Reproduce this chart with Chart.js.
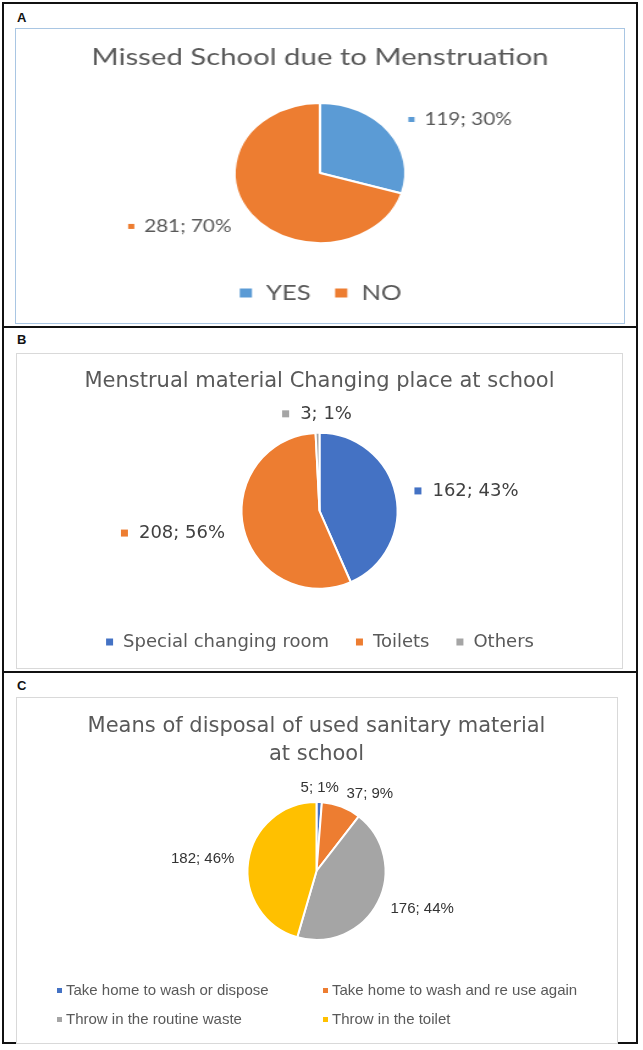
<!DOCTYPE html>
<html>
<head>
<meta charset="utf-8">
<script src="https://cdn.jsdelivr.net/npm/chart.js@4.4.1/dist/chart.umd.min.js"></script>
<style>
  body { margin: 0; background: #fff; }
  #page { position: relative; width: 643px; height: 1050px; overflow: hidden; }
  .abs { position: absolute; }
  .frame { left: 2px; top: 2px; width: 636px; height: 1042px; box-sizing: border-box; border: 2px solid #111; }
  .sep { left: 2px; width: 636px; height: 2px; background: #111; }
  .tag { font: bold 13px "Liberation Sans", sans-serif; color: #111; }
  .box { box-sizing: border-box; background: #fff; }
  canvas { position: absolute; }
  #legendC { font: 15px "Liberation Sans", sans-serif; color: #595959; }
  #legendC .item { position: absolute; white-space: nowrap; line-height: 18px; }
  #legendC .mk { display: inline-block; width: 5px; height: 5px; margin-right: 4px; vertical-align: middle; position: relative; top: -1px; }
</style>
</head>
<body>
<div id="page">
  <div class="abs frame"></div>
  <div class="abs sep" style="top:326px"></div>
  <div class="abs sep" style="top:671px"></div>

  <div class="abs tag" style="left:17px;top:10px">A</div>
  <div class="abs tag" style="left:17px;top:332px">B</div>
  <div class="abs tag" style="left:17px;top:678px">C</div>

  <div class="abs box" style="left:15px;top:28px;width:610px;height:296px;border:1px solid #a9c6e3"></div>
  <div class="abs box" style="left:16px;top:353px;width:607px;height:316px;border:1px solid #d9d9d9"></div>
  <div class="abs box" style="left:16px;top:697px;width:602px;height:347px;border:1px solid #d9d9d9"></div>

  <canvas id="chartA" width="498" height="295" style="left:16px;top:28px;transform:scaleX(1.2209);transform-origin:0 0"></canvas>
  <canvas id="chartB" width="607" height="315" style="left:16px;top:353px"></canvas>
  <canvas id="chartC" width="601" height="345" style="left:16px;top:697px"></canvas>
  <div id="legendC"></div>
</div>

<script>
// ----------------------------
// Data
// ----------------------------
const titleA = "Missed School due to Menstruation";
const labelsA = ["YES", "NO"];
const valuesA = [119, 281];
const colorsA = ["#5b9bd5", "#ed7d31"];

const titleB = "Menstrual material Changing place at school";
const labelsB = ["Special changing room", "Toilets", "Others"];
const valuesB = [162, 208, 3];
const colorsB = ["#4472c4", "#ed7d31", "#a5a5a5"];

const titleC = ["Means of disposal of used sanitary material", "at school"];
const labelsC = [
  "Take home to wash or dispose",
  "Take home to wash and re use again",
  "Throw in the routine waste",
  "Throw in the toilet"
];
const valuesC = [5, 37, 176, 182];
const colorsC = ["#4472c4", "#ed7d31", "#a5a5a5", "#ffc000"];

// ----------------------------
// "value; pct%" labels outside each slice
// ----------------------------
const sliceLabels = {
  id: "sliceLabels",
  afterDatasetsDraw(chart, args, opts) {
    const ctx = chart.ctx;
    const ds = chart.data.datasets[0];
    const total = ds.data.reduce((a, b) => a + b, 0);
    const meta = chart.getDatasetMeta(0);
    ctx.save();
    ctx.font = opts.font;
    ctx.textBaseline = "middle";
    ctx.textAlign = "left";
    meta.data.forEach((arc, i) => {
      const p = arc.getProps(["x", "y", "startAngle", "endAngle", "outerRadius"], true);
      const mid = (p.startAngle + p.endAngle) / 2;
      const dx = Math.cos(mid), dy = Math.sin(mid);
      const ax = p.x + dx * (p.outerRadius + opts.offset);
      const ay = p.y + dy * (p.outerRadius + opts.offset);
      const text = ds.data[i] + "; " + Math.round(ds.data[i] / total * 100) + "%";
      const mw = opts.marker ? opts.marker + opts.gap : 0;
      const w = mw + ctx.measureText(text).width;
      const left = dx > 0.3 ? ax : dx < -0.3 ? ax - w : ax - w / 2;
      if (opts.marker) {
        ctx.fillStyle = ds.backgroundColor[i];
        ctx.fillRect(left, ay - opts.marker / 2, opts.marker, opts.marker);
      }
      ctx.fillStyle = opts.color;
      ctx.fillText(text, left + mw, ay);
    });
    ctx.restore();
  }
};

function pieConfig(labels, values, colors, radius, extra) {
  return {
    type: "pie",
    data: {
      labels: labels,
      datasets: [{ data: values, backgroundColor: colors, borderColor: "#fff", borderWidth: 2 }]
    },
    options: Object.assign({
      responsive: false,
      animation: false,
      devicePixelRatio: 1,
      radius: radius,
      events: []
    }, extra),
    plugins: [sliceLabels]
  };
}

// ----------------------------
// A
// ----------------------------
new Chart(document.getElementById("chartA"), pieConfig(labelsA, valuesA, colorsA, 70, {
  layout: { padding: { top: 0, bottom: 9.5, left: 0, right: 0 } },
  plugins: {
    title: { display: true, text: titleA, color: "#595959",
      font: { family: "Lato", size: 24, weight: "normal", lineHeight: 1.2 },
      padding: { top: 14.6, bottom: 11 } },
    legend: { position: "bottom",
      labels: { color: "#595959", font: { family: "Lato", size: 21 }, boxWidth: 12, boxHeight: 11, padding: 19 } },
    tooltip: { enabled: false },
    sliceLabels: { font: "17px Lato", color: "#595959", offset: 20, marker: 5, gap: 8 }
  }
}));

// ----------------------------
// B
// ----------------------------
new Chart(document.getElementById("chartB"), pieConfig(labelsB, valuesB, colorsB, 78, {
  layout: { padding: { top: 0, bottom: 7, left: 0, right: 0 } },
  plugins: {
    title: { display: true, text: titleB, color: "#595959",
      font: { family: "DejaVu Sans", size: 21, weight: "normal", lineHeight: 1.2 },
      padding: { top: 16.4, bottom: 20 } },
    legend: { position: "bottom",
      labels: { color: "#595959", font: { family: "DejaVu Sans", size: 18 }, boxWidth: 9, boxHeight: 9, padding: 26 } },
    tooltip: { enabled: false },
    sliceLabels: { font: "18px 'DejaVu Sans'", color: "#404040", offset: 19, marker: 7, gap: 11 }
  }
}));

// ----------------------------
// C
// ----------------------------
new Chart(document.getElementById("chartC"), pieConfig(labelsC, valuesC, colorsC, 69, {
  layout: { padding: { top: 0, bottom: 79, left: 0, right: 0 } },
  plugins: {
    title: { display: true, text: titleC, color: "#595959",
      font: { family: "DejaVu Sans", size: 21, weight: "normal", lineHeight: "28px" },
      padding: { top: 16, bottom: 10 } },
    legend: { display: false },
    tooltip: { enabled: false },
    sliceLabels: { font: "15px 'Liberation Sans'", color: "#333", offset: 14, marker: 0, gap: 0 }
  }
}));

// legend C in a 2x2 grid
const legendC = document.getElementById("legendC");
const colX = [57, 323];
const rowY = [981, 1010];
labelsC.forEach((lab, i) => {
  const el = document.createElement("div");
  el.className = "item";
  el.style.left = colX[i % 2] + "px";
  el.style.top = rowY[Math.floor(i / 2)] + "px";
  el.innerHTML = '<span class="mk" style="background:' + colorsC[i] + '"></span>' + lab;
  legendC.appendChild(el);
});
</script>
</body>
</html>
